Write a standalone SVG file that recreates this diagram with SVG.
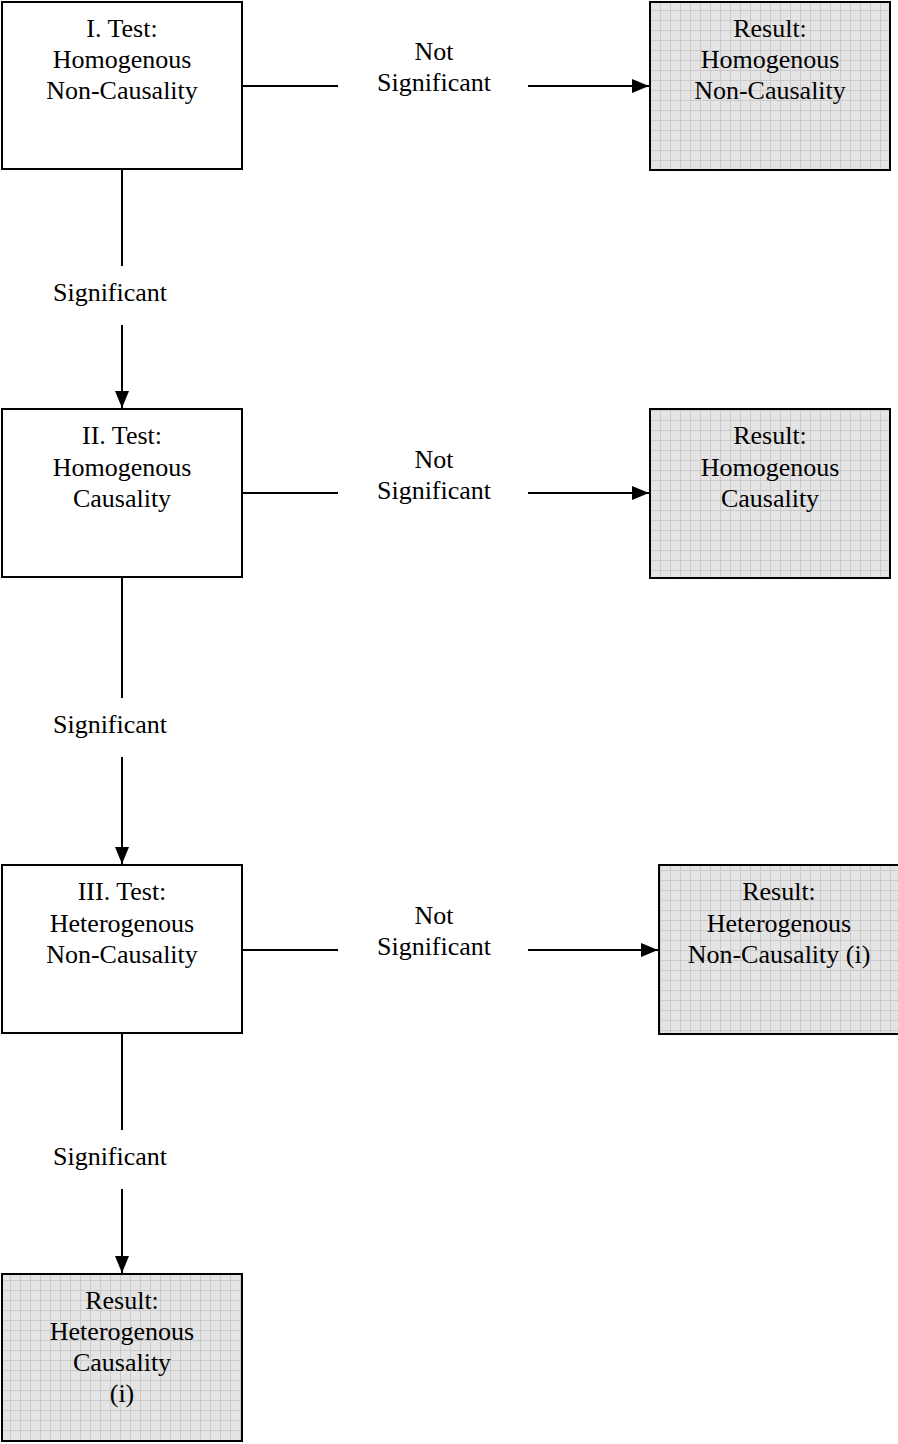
<svg xmlns="http://www.w3.org/2000/svg" width="898" height="1444" viewBox="0 0 898 1444">
<style>
.box{fill:#fff;stroke:#000;stroke-width:2}
.res{fill:url(#grid);stroke:#000;stroke-width:2}
.t{font-family:"Liberation Serif","Times New Roman",serif;font-size:26px;text-anchor:middle;fill:#000}
.c{stroke:#000;stroke-width:2;fill:none}
</style>
<defs>
<pattern id="grid" patternUnits="userSpaceOnUse" width="10" height="10">
<rect width="10" height="10" fill="#e4e4e4"/>
<path d="M0 0.5H10M0.5 0V10" stroke="#cbcbcb" stroke-width="1"/>
</pattern>
<marker id="ah" markerUnits="userSpaceOnUse" markerWidth="17" markerHeight="14" refX="17" refY="7" orient="auto">
<path d="M0 0L17 7L0 14Z" fill="#000"/>
</marker>
</defs>
<g id="connectors">
<line class="c" x1="243" y1="86" x2="338" y2="86"/>
<line class="c" x1="528" y1="86" x2="649" y2="86" marker-end="url(#ah)"/>
<line class="c" x1="243" y1="493" x2="338" y2="493"/>
<line class="c" x1="528" y1="493" x2="649" y2="493" marker-end="url(#ah)"/>
<line class="c" x1="243" y1="950" x2="338" y2="950"/>
<line class="c" x1="528" y1="950" x2="658" y2="950" marker-end="url(#ah)"/>
<line class="c" x1="122" y1="170" x2="122" y2="266"/>
<line class="c" x1="122" y1="325" x2="122" y2="408" marker-end="url(#ah)"/>
<line class="c" x1="122" y1="578" x2="122" y2="698"/>
<line class="c" x1="122" y1="757" x2="122" y2="864" marker-end="url(#ah)"/>
<line class="c" x1="122" y1="1034" x2="122" y2="1130"/>
<line class="c" x1="122" y1="1189" x2="122" y2="1273" marker-end="url(#ah)"/>
<text class="t" x="434" y="60">Not</text>
<text class="t" x="434" y="91">Significant</text>
<text class="t" x="434" y="468">Not</text>
<text class="t" x="434" y="499">Significant</text>
<text class="t" x="434" y="924">Not</text>
<text class="t" x="434" y="955">Significant</text>
<text class="t" x="110" y="301">Significant</text>
<text class="t" x="110" y="733">Significant</text>
<text class="t" x="110" y="1165">Significant</text>
</g>
<g id="test1">
<rect class="box" x="2" y="2" width="240" height="167"/>
<text class="t" x="122" y="37">I. Test:</text>
<text class="t" x="122" y="68">Homogenous</text>
<text class="t" x="122" y="99">Non-Causality</text>
</g>
<g id="result1">
<rect class="res" x="650" y="2" width="240" height="168"/>
<text class="t" x="770" y="37">Result:</text>
<text class="t" x="770" y="68">Homogenous</text>
<text class="t" x="770" y="99">Non-Causality</text>
</g>
<g id="test2">
<rect class="box" x="2" y="409" width="240" height="168"/>
<text class="t" x="122" y="444">II. Test:</text>
<text class="t" x="122" y="476">Homogenous</text>
<text class="t" x="122" y="507">Causality</text>
</g>
<g id="result2">
<rect class="res" x="650" y="409" width="240" height="169"/>
<text class="t" x="770" y="444">Result:</text>
<text class="t" x="770" y="476">Homogenous</text>
<text class="t" x="770" y="507">Causality</text>
</g>
<g id="test3">
<rect class="box" x="2" y="865" width="240" height="168"/>
<text class="t" x="122" y="900">III. Test:</text>
<text class="t" x="122" y="932">Heterogenous</text>
<text class="t" x="122" y="963">Non-Causality</text>
</g>
<g id="result3">
<rect class="res" x="659" y="865" width="240" height="169"/>
<text class="t" x="779" y="900">Result:</text>
<text class="t" x="779" y="932">Heterogenous</text>
<text class="t" x="779" y="963">Non-Causality (i)</text>
</g>
<g id="result4">
<rect class="res" x="2" y="1274" width="240" height="167"/>
<text class="t" x="122" y="1309">Result:</text>
<text class="t" x="122" y="1340">Heterogenous</text>
<text class="t" x="122" y="1371">Causality</text>
<text class="t" x="122" y="1402">(i)</text>
</g>
</svg>
